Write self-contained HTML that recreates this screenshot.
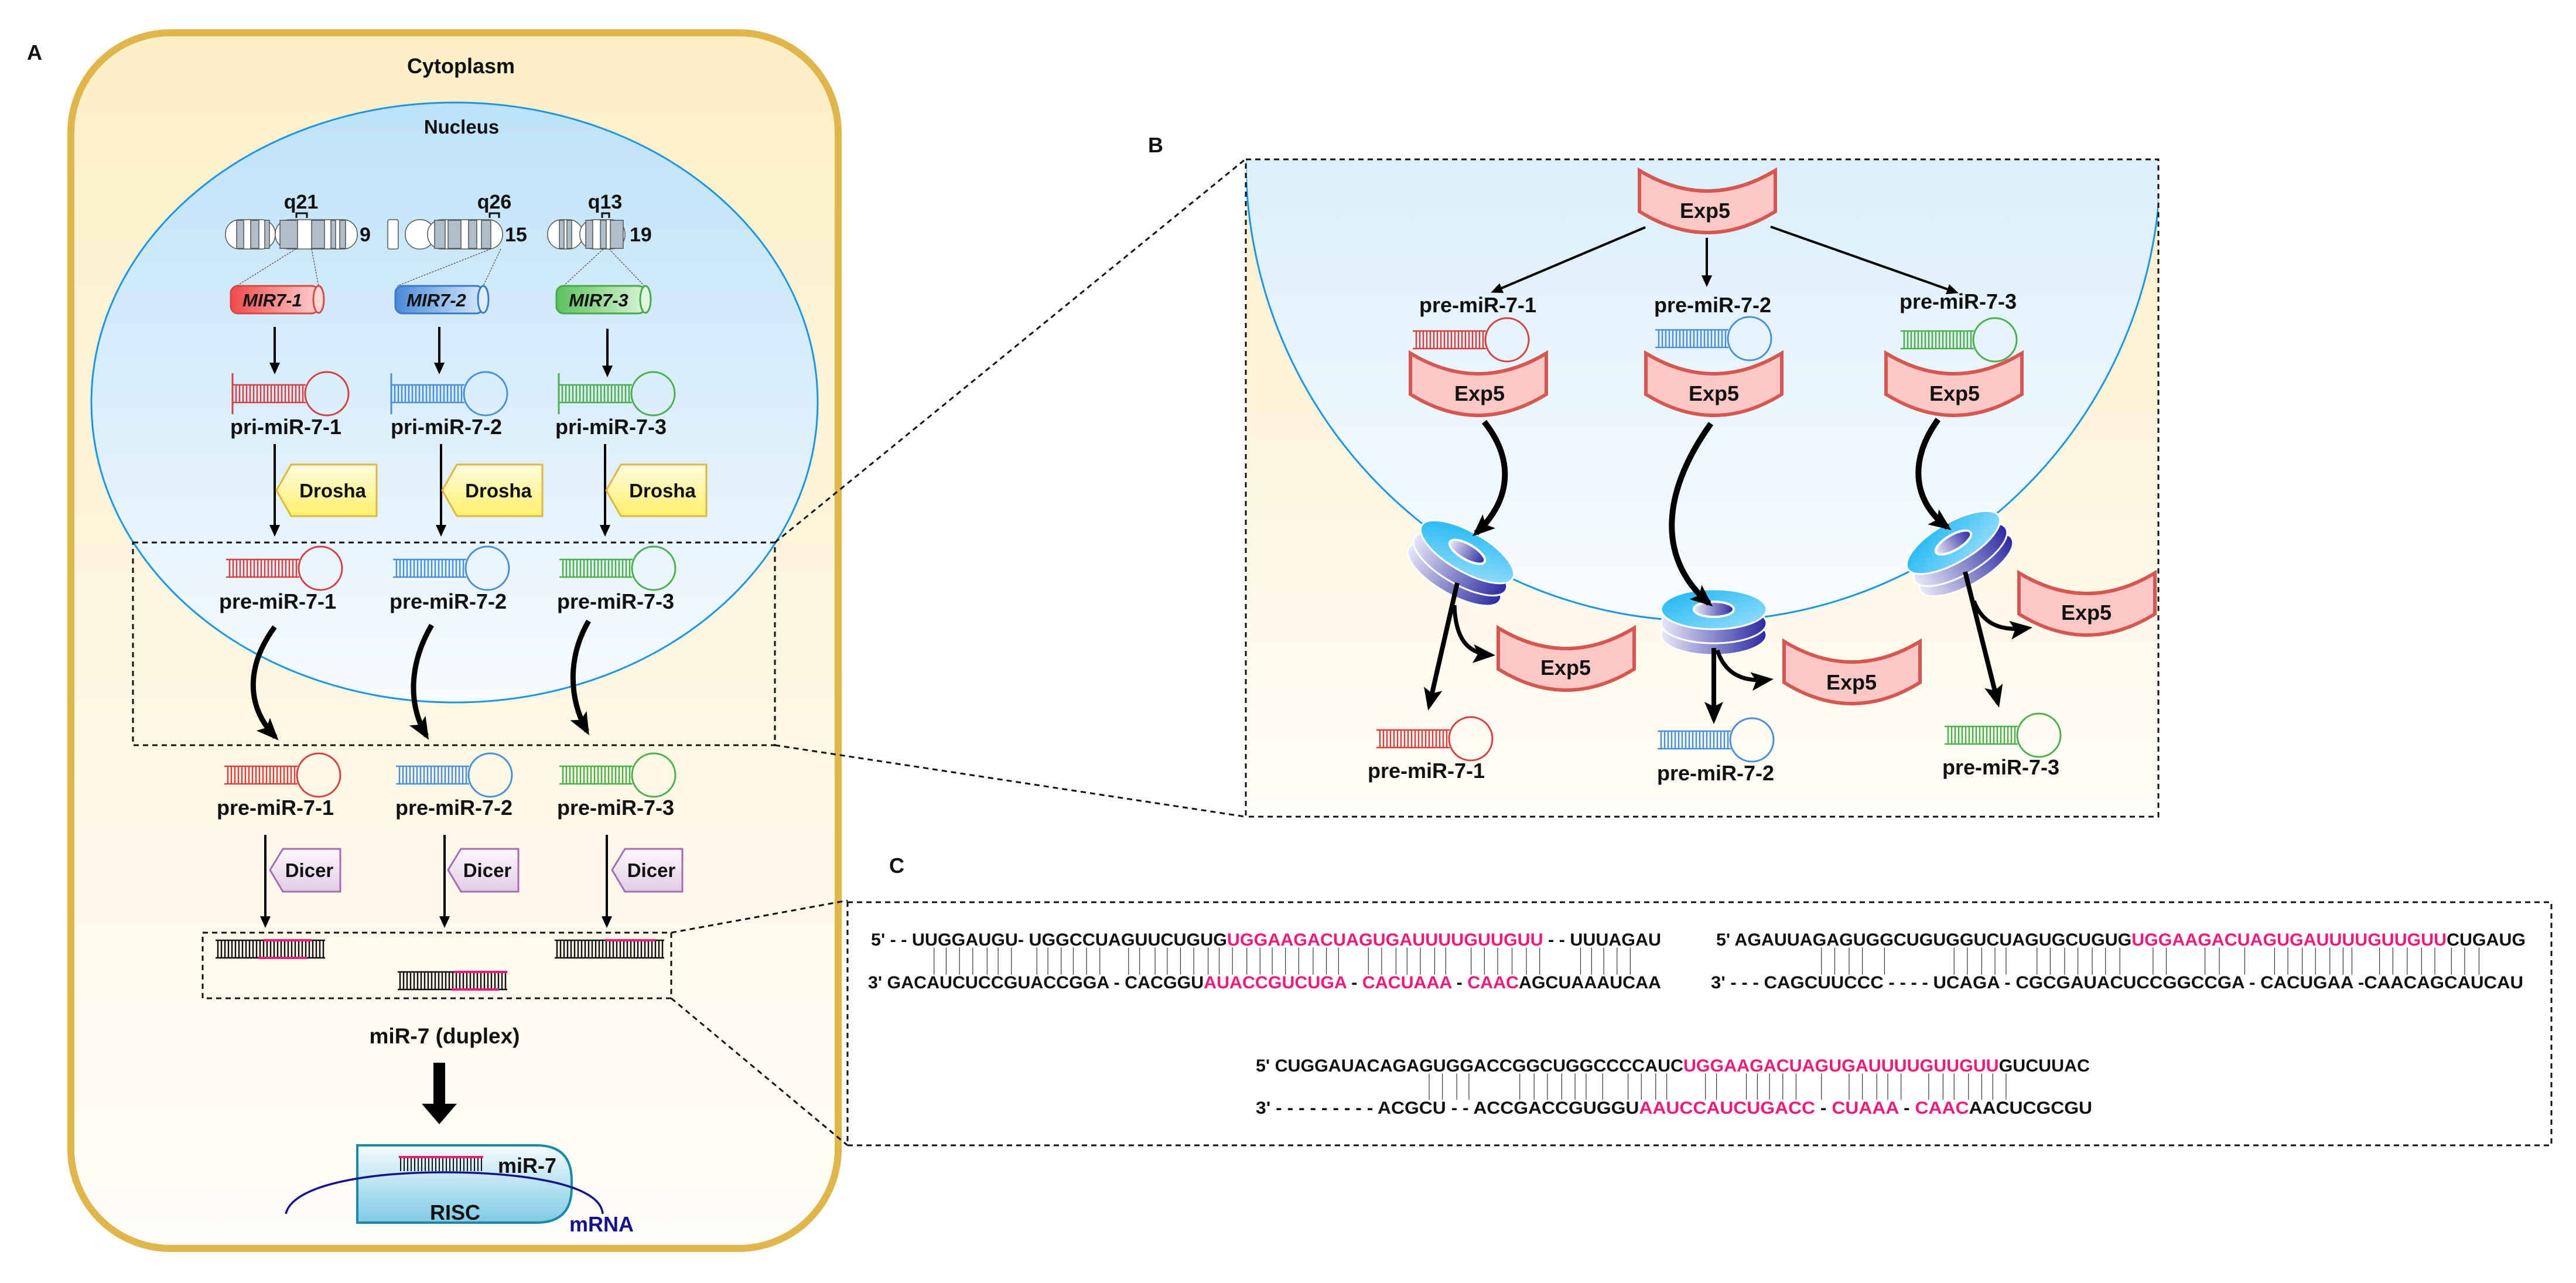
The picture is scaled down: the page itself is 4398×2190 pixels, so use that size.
<!DOCTYPE html>
<html><head><meta charset="utf-8"><style>
html,body{margin:0;padding:0;background:#fff}
svg{display:block}
text{font-family:"Liberation Sans",Arial,sans-serif;font-weight:bold;fill:#111}
</style></head><body>
<svg width="4398" height="2190" viewBox="0 0 4398 2190" xmlns="http://www.w3.org/2000/svg">
<defs>
<linearGradient id="cellG" x1="0" y1="0" x2="0" y2="1"><stop offset="0" stop-color="#fdefc6"/><stop offset="1" stop-color="#fffdf9"/></linearGradient>
<linearGradient id="nucG" x1="0" y1="0" x2="0" y2="1"><stop offset="0" stop-color="#bde2f9"/><stop offset="1" stop-color="#f7fbff"/></linearGradient>
<linearGradient id="bBg" x1="0" y1="0" x2="0" y2="1"><stop offset="0" stop-color="#fdefc8"/><stop offset="1" stop-color="#fffdf8"/></linearGradient>
<linearGradient id="bNuc" x1="0" y1="0" x2="0" y2="1"><stop offset="0" stop-color="#bde2f9"/><stop offset="1" stop-color="#f8fcff"/></linearGradient>
<linearGradient id="yel" x1="0" y1="0" x2="0" y2="1"><stop offset="0" stop-color="#fffbe0"/><stop offset="1" stop-color="#fff06a"/></linearGradient>
<linearGradient id="pur" x1="0" y1="0" x2="0" y2="1"><stop offset="0" stop-color="#fdf8fd"/><stop offset="1" stop-color="#e2cce6"/></linearGradient>
<linearGradient id="risc" x1="0" y1="0" x2="0" y2="1"><stop offset="0" stop-color="#f4fbfe"/><stop offset="1" stop-color="#80cbe6"/></linearGradient>
<linearGradient id="red" x1="0" y1="0" x2="1" y2="0"><stop offset="0" stop-color="#ef4a4a"/><stop offset="1" stop-color="#ffd0cf"/></linearGradient>
<linearGradient id="blu" x1="0" y1="0" x2="1" y2="0"><stop offset="0" stop-color="#4a8ad8"/><stop offset="1" stop-color="#d5e8fb"/></linearGradient>
<linearGradient id="grn" x1="0" y1="0" x2="1" y2="0"><stop offset="0" stop-color="#5cc25c"/><stop offset="1" stop-color="#d8f3d6"/></linearGradient>
<linearGradient id="poreTop" x1="0" y1="0" x2="1" y2="1"><stop offset="0" stop-color="#16b6f2"/><stop offset="1" stop-color="#9ee0fb"/></linearGradient>
<linearGradient id="poreDark" x1="0" y1="0" x2="1" y2="0"><stop offset="0" stop-color="#e8e8f8"/><stop offset="1" stop-color="#2a2aa0"/></linearGradient>
<marker id="ah" markerWidth="22" markerHeight="22" refX="16" refY="11" orient="auto" markerUnits="userSpaceOnUse"><path d="M0,2 L20,11 L0,20 Z" fill="#000"/></marker>
<marker id="ahB" markerWidth="40" markerHeight="40" refX="30" refY="20" orient="auto" markerUnits="userSpaceOnUse"><path d="M0,4 L38,20 L0,36 L8,20 Z" fill="#000"/></marker>
<g id="rungs"><path d="M0,-15H125M0,15H125M6,-15V15M12,-15V15M18,-15V15M24,-15V15M30,-15V15M36,-15V15M42,-15V15M48,-15V15M54,-15V15M60,-15V15M66,-15V15M72,-15V15M78,-15V15M84,-15V15M90,-15V15M96,-15V15M102,-15V15M108,-15V15M114,-15V15M120,-15V15" fill="none" stroke-width="2.5"/><circle cx="161" cy="0" r="37" fill="none" stroke-width="3"/></g>
<g id="pri"><use href="#rungs"/><path d="M0,-35V35" stroke-width="3"/></g>
<path id="exp" d="M0,0 Q116,70 232,0 L232,70 Q116,142 0,70 Z" fill="#fbc8c5" stroke="#d65652" stroke-width="6"/>
<path id="dro" d="M25,0 H171 V88 H25 L0,44 Z" fill="url(#yel)" stroke="#e0b540" stroke-width="3"/>
<path id="dic" d="M22,0 H120 V73 H22 L0,36 Z" fill="url(#pur)" stroke="#a46cb4" stroke-width="3"/>
<g id="dup"><path d="M0,0H187M0,30H187M4,0V30M10,0V30M16,0V30M22,0V30M28,0V30M34,0V30M40,0V30M46,0V30M52,0V30M58,0V30M64,0V30M70,0V30M76,0V30M82,0V30M88,0V30M94,0V30M100,0V30M106,0V30M112,0V30M118,0V30M124,0V30M130,0V30M136,0V30M142,0V30M148,0V30M154,0V30M160,0V30M166,0V30M172,0V30M178,0V30M184,0V30" stroke="#111" stroke-width="2.5"/></g>
<g id="pore"><ellipse cx="0" cy="44" rx="90" ry="34" fill="url(#poreDark)" stroke="#fff" stroke-width="3"/><ellipse cx="0" cy="24" rx="90" ry="34" fill="url(#poreDark)" stroke="#fff" stroke-width="3"/><ellipse cx="0" cy="0" rx="90" ry="34" fill="url(#poreTop)" stroke="#fff" stroke-width="3"/><ellipse cx="0" cy="0" rx="34" ry="13" fill="url(#poreDark)" stroke="#fff" stroke-width="4"/></g>
</defs>

<!-- PANEL A -->
<text x="46" y="102" font-size="36">A</text>
<rect x="121" y="56" width="1310" height="2075" rx="170" fill="url(#cellG)" stroke="#e0b54a" stroke-width="12"/>
<text x="787" y="125" font-size="36" text-anchor="middle">Cytoplasm</text>
<ellipse cx="776" cy="687" rx="620" ry="512" fill="url(#nucG)" stroke="#1a96e8" stroke-width="3"/>
<text x="788" y="228" font-size="33" text-anchor="middle">Nucleus</text>

<!-- chromosomes -->
<g stroke="#555" stroke-width="1.5">
<rect x="385" y="375" width="85" height="50" rx="24" fill="#fff"/>
<rect x="470" y="375" width="140" height="50" rx="24" fill="#fff"/>
<rect x="404" y="376" width="12" height="48" fill="#aebfcb"/><rect x="428" y="376" width="14" height="48" fill="#aebfcb"/><rect x="452" y="376" width="8" height="48" fill="#aebfcb"/>
<rect x="478" y="376" width="30" height="48" fill="#aebfcb"/><rect x="532" y="376" width="22" height="48" fill="#aebfcb"/><rect x="565" y="376" width="8" height="48" fill="#aebfcb"/><rect x="580" y="376" width="10" height="48" fill="#aebfcb"/>
<rect x="662" y="375" width="18" height="50" rx="3" fill="#fff"/>
<rect x="692" y="375" width="50" height="50" rx="24" fill="#fff"/>
<rect x="730" y="375" width="128" height="50" rx="24" fill="#fff"/>
<rect x="742" y="376" width="18" height="48" fill="#aebfcb"/><rect x="765" y="376" width="22" height="48" fill="#aebfcb"/><rect x="800" y="376" width="14" height="48" fill="#aebfcb"/><rect x="822" y="376" width="16" height="48" fill="#aebfcb"/>
<rect x="935" y="375" width="60" height="50" rx="24" fill="#fff"/>
<rect x="990" y="375" width="77" height="50" rx="24" fill="#fff"/>
<rect x="955" y="376" width="8" height="48" fill="#aebfcb"/><rect x="968" y="376" width="8" height="48" fill="#aebfcb"/><rect x="1000" y="376" width="12" height="48" fill="#aebfcb"/><rect x="1025" y="376" width="10" height="48" fill="#aebfcb"/><rect x="1042" y="376" width="22" height="48" fill="#aebfcb"/>
</g>
<text x="514" y="356" font-size="34" text-anchor="middle">q21</text>
<text x="844" y="356" font-size="34" text-anchor="middle">q26</text>
<text x="1033" y="356" font-size="34" text-anchor="middle">q13</text>
<path d="M506,372 V364 H524 V372 M836,372 V364 H852 V372 M1028,372 V364 H1040 V372" fill="none" stroke="#111" stroke-width="3"/>
<text x="614" y="412" font-size="34">9</text>
<text x="862" y="412" font-size="34">15</text>
<text x="1075" y="412" font-size="34">19</text>
<g stroke="#444" stroke-width="1.2" stroke-dasharray="3,2">
<path d="M505,425 L404,488 M532,425 L544,488 M838,425 L678,488 M855,425 L825,488 M1030,425 L962,488 M1040,425 L1100,488"/>
</g>
<!-- MIR cylinders -->
<g stroke-width="3">
<rect x="394" y="488" width="150" height="47" rx="12" fill="url(#red)" stroke="#d94848"/><ellipse cx="544" cy="511" rx="9" ry="23" fill="#ffd8d6" stroke="#d94848"/>
<rect x="675" y="488" width="150" height="47" rx="12" fill="url(#blu)" stroke="#3a7ac8"/><ellipse cx="825" cy="511" rx="9" ry="23" fill="#deeefc" stroke="#3a7ac8"/>
<rect x="950" y="488" width="152" height="47" rx="12" fill="url(#grn)" stroke="#4aa84a"/><ellipse cx="1102" cy="511" rx="9" ry="23" fill="#e0f6de" stroke="#4aa84a"/>
</g>
<text x="465" y="523" font-size="31" font-style="italic" text-anchor="middle">MIR7-1</text>
<text x="745" y="523" font-size="31" font-style="italic" text-anchor="middle">MIR7-2</text>
<text x="1022" y="523" font-size="31" font-style="italic" text-anchor="middle">MIR7-3</text>
<g stroke="#000" stroke-width="4" marker-end="url(#ah)">
<path d="M469,558 V635"/><path d="M750,558 V635"/><path d="M1037,561 V640"/>
</g>
<use href="#pri" x="397" y="672" stroke="#d64040"/>
<use href="#pri" x="668" y="672" stroke="#4a90d9"/>
<use href="#pri" x="954" y="672" stroke="#4cae4c"/>
<text x="488" y="741" font-size="36" text-anchor="middle">pri-miR-7-1</text>
<text x="762" y="741" font-size="36" text-anchor="middle">pri-miR-7-2</text>
<text x="1043" y="741" font-size="36" text-anchor="middle">pri-miR-7-3</text>
<g stroke="#000" stroke-width="4" marker-end="url(#ah)">
<path d="M469,758 V912"/><path d="M753,758 V912"/><path d="M1033,758 V912"/>
</g>
<use href="#dro" x="472" y="793"/><use href="#dro" x="755" y="793"/><use href="#dro" x="1035" y="793"/>
<text x="568" y="849" font-size="33" text-anchor="middle">Drosha</text>
<text x="851" y="849" font-size="33" text-anchor="middle">Drosha</text>
<text x="1131" y="849" font-size="33" text-anchor="middle">Drosha</text>

<use href="#rungs" x="386" y="970" stroke="#d64040"/>
<use href="#rungs" x="671" y="970" stroke="#4a90d9"/>
<use href="#rungs" x="955" y="970" stroke="#4cae4c"/>
<text x="474" y="1039" font-size="36" text-anchor="middle">pre-miR-7-1</text>
<text x="765" y="1039" font-size="36" text-anchor="middle">pre-miR-7-2</text>
<text x="1051" y="1039" font-size="36" text-anchor="middle">pre-miR-7-3</text>
<g fill="none" stroke="#000" stroke-width="9" marker-end="url(#ahB)">
<path d="M469,1070 C425,1130 415,1200 470,1258"/>
<path d="M737,1067 C700,1130 695,1200 728,1256"/>
<path d="M1005,1060 C970,1120 970,1190 1002,1248"/>
</g>
<rect x="227" y="926" width="1096" height="346" fill="none" stroke="#111" stroke-width="3" stroke-dasharray="9,7"/>

<use href="#rungs" x="383" y="1323" stroke="#d64040"/>
<use href="#rungs" x="676" y="1323" stroke="#4a90d9"/>
<use href="#rungs" x="955" y="1323" stroke="#4cae4c"/>
<text x="470" y="1391" font-size="36" text-anchor="middle">pre-miR-7-1</text>
<text x="775" y="1391" font-size="36" text-anchor="middle">pre-miR-7-2</text>
<text x="1051" y="1391" font-size="36" text-anchor="middle">pre-miR-7-3</text>
<g stroke="#000" stroke-width="4" marker-end="url(#ah)">
<path d="M453,1425 V1580"/><path d="M759,1425 V1580"/><path d="M1036,1425 V1580"/>
</g>
<use href="#dic" x="461" y="1449"/><use href="#dic" x="765" y="1449"/><use href="#dic" x="1045" y="1449"/>
<text x="528" y="1497" font-size="33" text-anchor="middle">Dicer</text>
<text x="832" y="1497" font-size="33" text-anchor="middle">Dicer</text>
<text x="1112" y="1497" font-size="33" text-anchor="middle">Dicer</text>
<rect x="346" y="1592" width="800" height="112" fill="none" stroke="#111" stroke-width="3" stroke-dasharray="9,7"/>
<use href="#dup" x="368" y="1605"/>
<path d="M450,1605H533M440,1635H524" stroke="#ee1b7a" stroke-width="4"/>
<use href="#dup" x="679" y="1659"/>
<path d="M775,1659H866M771,1689H852" stroke="#ee1b7a" stroke-width="4"/>
<use href="#dup" x="947" y="1605"/>
<path d="M1034,1605H1119" stroke="#ee1b7a" stroke-width="4"/>
<text x="759" y="1781" font-size="37" text-anchor="middle">miR-7 (duplex)</text>
<path d="M740,1814 H760 V1884 H780 L750,1919 L720,1884 H740 Z" fill="#000"/>
<path d="M610,1955 H916 Q976,1955 976,2015 V2027 Q976,2087 916,2087 H610 Z" fill="url(#risc)" stroke="#1a8aa8" stroke-width="4"/>
<path d="M681,1975H825" stroke="#ee1b7a" stroke-width="4"/>
<path d="M681,1975H825M684,1975V1999M690,1975V1999M696,1975V1999M702,1975V1999M708,1975V1999M714,1975V1999M720,1975V1999M726,1975V1999M732,1975V1999M738,1975V1999M744,1975V1999M750,1975V1999M756,1975V1999M762,1975V1999M768,1975V1999M774,1975V1999M780,1975V1999M786,1975V1999M792,1975V1999M798,1975V1999M804,1975V1999M810,1975V1999M816,1975V1999M822,1975V1999" stroke="#111" stroke-width="2"/>
<path d="M681,1975H825" stroke="#ee1b7a" stroke-width="4"/>
<text x="850" y="2002" font-size="36">miR-7</text>
<path d="M488,2072 C500,2020 640,2000 765,2001 C890,2002 1025,2020 1029,2072" fill="none" stroke="#13138a" stroke-width="3.5"/>
<text x="777" y="2082" font-size="36" text-anchor="middle">RISC</text>
<text x="1027" y="2102" font-size="36" text-anchor="middle" style="fill:#13138a">mRNA</text>

<!-- connectors -->
<g stroke="#111" stroke-width="3" stroke-dasharray="9,7" fill="none">
<path d="M1323,926 L2126,272"/><path d="M1323,1272 L2126,1394"/>
<path d="M1146,1592 L1447,1537"/><path d="M1146,1704 L1447,1955"/>
</g>

<!-- PANEL B -->
<text x="1960" y="260" font-size="36">B</text>
<svg x="2128" y="272" width="1557" height="1122" viewBox="2128 272 1557 1122" overflow="hidden">
<rect x="2128" y="272" width="1557" height="1122" fill="url(#bBg)"/>
<ellipse cx="2908" cy="272" rx="781" ry="788" fill="url(#bNuc)" stroke="#1a96e8" stroke-width="3"/>
</svg>
<rect x="2127" y="272" width="1558" height="1122" fill="none" stroke="#111" stroke-width="3" stroke-dasharray="9,7"/>
<use href="#exp" x="2799" y="291"/>
<text x="2911" y="372" font-size="36" text-anchor="middle">Exp5</text>
<g stroke="#000" stroke-width="4" marker-end="url(#ah)">
<path d="M2809,388 L2549,498"/><path d="M2914,406 V486"/><path d="M3023,387 L3340,499"/>
</g>
<text x="2523" y="533" font-size="36" text-anchor="middle">pre-miR-7-1</text>
<text x="2924" y="533" font-size="36" text-anchor="middle">pre-miR-7-2</text>
<text x="3343" y="527" font-size="36" text-anchor="middle">pre-miR-7-3</text>
<use href="#rungs" x="2412" y="580" stroke="#d64040"/>
<use href="#rungs" x="2826" y="578" stroke="#4a90d9"/>
<use href="#rungs" x="3245" y="580" stroke="#4cae4c"/>
<use href="#exp" x="2408" y="603"/><use href="#exp" x="2810" y="603"/><use href="#exp" x="3220" y="603"/>
<text x="2526" y="684" font-size="36" text-anchor="middle">Exp5</text>
<text x="2926" y="684" font-size="36" text-anchor="middle">Exp5</text>
<text x="3337" y="684" font-size="36" text-anchor="middle">Exp5</text>
<use href="#pore" transform="translate(2505,942) rotate(30)"/>
<use href="#pore" transform="translate(2926,1040)"/>
<use href="#pore" transform="translate(3335,926) rotate(-30)"/>
<g fill="none" stroke="#000" stroke-width="10" marker-end="url(#ahB)">
<path d="M2534,720 C2590,790 2575,860 2520,910"/>
<path d="M2921,723 C2830,850 2835,960 2918,1030"/>
<path d="M3309,716 C3255,790 3270,860 3325,900"/>
</g>
<g fill="none" stroke="#000" stroke-width="8" marker-end="url(#ahB)">
<path d="M2488,995 L2440,1205"/><path d="M2926,1106 L2926,1228"/><path d="M3355,976 L3411,1200"/>
</g>
<g fill="none" stroke="#000" stroke-width="7" marker-end="url(#ahB)">
<path d="M2483,1033 C2485,1090 2505,1115 2545,1118"/>
<path d="M2932,1110 C2945,1150 2975,1165 3020,1160"/>
<path d="M3370,1026 C3385,1065 3415,1078 3462,1072"/>
</g>
<use href="#exp" x="2558" y="1072"/><use href="#exp" x="3046" y="1095"/><use href="#exp" x="3447" y="978"/>
<text x="2673" y="1152" font-size="36" text-anchor="middle">Exp5</text>
<text x="3161" y="1177" font-size="36" text-anchor="middle">Exp5</text>
<text x="3562" y="1058" font-size="36" text-anchor="middle">Exp5</text>
<use href="#rungs" x="2350" y="1261" stroke="#d64040"/>
<use href="#rungs" x="2830" y="1263" stroke="#4a90d9"/>
<use href="#rungs" x="3320" y="1255" stroke="#4cae4c"/>
<text x="2435" y="1328" font-size="36" text-anchor="middle">pre-miR-7-1</text>
<text x="2929" y="1332" font-size="36" text-anchor="middle">pre-miR-7-2</text>
<text x="3416" y="1322" font-size="36" text-anchor="middle">pre-miR-7-3</text>

<!-- PANEL C -->
<text x="1518" y="1490" font-size="36">C</text>
<rect x="1447" y="1540" width="2909" height="415" fill="none" stroke="#111" stroke-width="3" stroke-dasharray="9,7"/>
<g font-size="30">
<text x="1487" y="1614" textLength="1349" lengthAdjust="spacingAndGlyphs">5' - - UUGGAUGU- UGGCCUAGUUCUGUG<tspan style="fill:#ee1b7a">UGGAAGACUAGUGAUUUUGUUGUU</tspan> - - UUUAGAU</text>
<text x="1482" y="1687" textLength="1354" lengthAdjust="spacingAndGlyphs">3' GACAUCUCCGUACCGGA - CACGGU<tspan style="fill:#ee1b7a">AUACCGUCUGA</tspan> - <tspan style="fill:#ee1b7a">CACUAAA</tspan> - <tspan style="fill:#ee1b7a">CAAC</tspan>AGCUAAAUCAA</text>
<text x="2930" y="1614" textLength="1382" lengthAdjust="spacingAndGlyphs">5' AGAUUAGAGUGGCUGUGGUCUAGUGCUGUG<tspan style="fill:#ee1b7a">UGGAAGACUAGUGAUUUUGUUGUU</tspan>CUGAUG</text>
<text x="2921" y="1687" textLength="1387" lengthAdjust="spacingAndGlyphs">3' - - - CAGCUUCCC - - - - UCAGA - CGCGAUACUCCGGCCGA - CACUGAA -CAACAGCAUCAU</text>
<text x="2144" y="1829" textLength="1424" lengthAdjust="spacingAndGlyphs">5' CUGGAUACAGAGUGGACCGGCUGGCCCCAUC<tspan style="fill:#ee1b7a">UGGAAGACUAGUGAUUUUGUUGUU</tspan>GUCUUAC</text>
<text x="2144" y="1901" textLength="1428" lengthAdjust="spacingAndGlyphs">3' - - - - - - - - - ACGCU - - ACCGACCGUGGU<tspan style="fill:#ee1b7a">AAUCCAUCUGACC</tspan> - <tspan style="fill:#ee1b7a">CUAAA</tspan> - <tspan style="fill:#ee1b7a">CAAC</tspan>AACUCGCGU</text>
</g>
<g transform="translate(1440,1440) scale(1.8868,0.3443)" stroke="#333" stroke-width="1.2" fill="none">
<path vector-effect="non-scaling-stroke" d="M82,515V650M93,515V650M105,515V650M117,515V650M130,515V650M140,515V650M152,515V650M175,515V650M185,515V650M197,515V650M208,515V650M220,515V650M232,515V650M258,515V650M268,515V650M282,515V650M293,515V650M305,515V650M317,515V650M330,515V650M340,515V650M352,515V650M365,515V650M377,515V650M388,515V650M400,515V650M412,515V650M425,515V650M437,515V650M448,515V650M475,515V650M487,515V650M500,515V650M510,515V650M522,515V650M535,515V650M545,515V650M568,515V650M580,515V650M592,515V650M605,515V650M618,515V650M630,515V650M667,515V650M677,515V650M688,515V650M700,515V650M712,515V650"/>
<path vector-effect="non-scaling-stroke" d="M885,515V650M897,515V650M910,515V650M922,515V650M942,515V650M1005,515V650M1017,515V650M1030,515V650M1042,515V650M1052,515V650M1080,515V650M1092,515V650M1105,515V650M1117,515V650M1130,515V650M1142,515V650M1155,515V650M1185,515V650M1197,515V650M1232,515V650M1245,515V650M1268,515V650M1295,515V650M1307,515V650M1320,515V650M1332,515V650M1345,515V650M1357,515V650M1365,515V650M1390,515V650M1402,515V650M1415,515V650M1428,515V650M1440,515V650M1455,515V650M1467,515V650M1480,515V650"/>
<path vector-effect="non-scaling-stroke" d="M530,1140V1270M542,1140V1270M555,1140V1270M566,1140V1270M612,1140V1270M625,1140V1270M637,1140V1270M650,1140V1270M662,1140V1270M672,1140V1270M687,1140V1270M710,1140V1270M722,1140V1270M735,1140V1270M745,1140V1270M780,1140V1270M790,1140V1270M817,1140V1270M827,1140V1270M838,1140V1270M850,1140V1270M862,1140V1270M885,1140V1270M910,1140V1270M922,1140V1270M935,1140V1270M945,1140V1270M957,1140V1270M982,1140V1270M995,1140V1270M1005,1140V1270M1018,1140V1270M1030,1140V1270M1040,1140V1270M1052,1140V1270"/>
</g>
</svg>
</body></html>
